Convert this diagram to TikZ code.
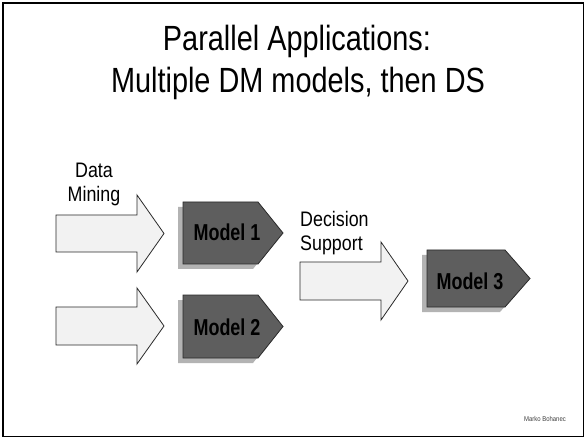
\documentclass[tikz,border=0pt]{standalone}
\usepackage{fontspec}
\setmainfont{Liberation Sans}
\newfontfamily\titlefont[FakeStretch=0.825]{Liberation Sans}
\newfontfamily\labelfont[FakeStretch=0.85]{Liberation Sans}
\newfontfamily\modelfont[FakeStretch=0.78]{Liberation Sans}

\definecolor{arrowfill}{HTML}{F2F2F2}
\definecolor{modelfill}{HTML}{5E5E5E}
\definecolor{shadowgray}{HTML}{B3B3B3}
\definecolor{edgegray}{HTML}{2A2A2A}

\tikzset{
  bigarrow/.style={fill=arrowfill, draw=edgegray, line width=0.8pt, line join=miter},
  modelbox/.style={fill=modelfill, draw=edgegray, line width=0.8pt, line join=miter},
  modelshadow/.style={fill=shadowgray, draw=none},
  titletext/.style={anchor=base, inner sep=0pt, font=\titlefont\fontsize{35}{41}\selectfont},
  labeltext/.style={anchor=base, inner sep=0pt, font=\labelfont\fontsize{21}{24}\selectfont},
  modeltext/.style={anchor=base, inner sep=0pt, font=\modelfont\bfseries\fontsize{23}{26}\selectfont},
}

\begin{document}
\begin{tikzpicture}[x=1pt, y=-1pt]
  % slide area and frame
  \useasboundingbox (0,0) rectangle (586,438);
  \fill[white] (0,0) rectangle (586,438);
  \draw[line width=1.6pt, black] (2.8,2.8) rectangle (583.5,436.5);

  % title
  \node[titletext] (title1) at (297,51) {Parallel Applications:};
  \node[titletext] (title2) at (298,92.3) {Multiple DM models, then DS};

  % data mining arrows
  \draw[bigarrow] (56,215) -- (137,215) -- (137,195) -- (164,233.5)
     -- (137,272) -- (137,252) -- (56,252) -- cycle;
  \draw[bigarrow] (56,307) -- (137,307) -- (137,288) -- (164,326)
     -- (137,364) -- (137,345) -- (56,345) -- cycle;
  \node[labeltext] (dm1) at (94,178) {Data};
  \node[labeltext] (dm2) at (94,202) {Mining};

  % model 1
  \fill[modelshadow] (178,207) -- (253,207) -- (278,238) -- (253,269) -- (178,269) -- cycle;
  \draw[modelbox] (183,202) -- (258,202) -- (283,233) -- (258,264) -- (183,264) -- cycle;
  \node[modeltext] (m1) at (227,241) {Model 1};

  % model 2
  \fill[modelshadow] (178,300) -- (253,300) -- (278,331.5) -- (253,363) -- (178,363) -- cycle;
  \draw[modelbox] (183,295) -- (258,295) -- (283,326.5) -- (258,358) -- (183,358) -- cycle;
  \node[modeltext] (m2) at (227,335) {Model 2};

  % decision support arrow
  \draw[bigarrow] (300,262) -- (381,262) -- (381,242) -- (408,281)
     -- (381,320) -- (381,300) -- (300,300) -- cycle;
  \node[labeltext, anchor=base west] (ds1) at (300,227) {Decision};
  \node[labeltext, anchor=base west] (ds2) at (300,251) {Support};

  % model 3
  \fill[modelshadow] (422,255) -- (500,255) -- (525,283.5) -- (500,312) -- (422,312) -- cycle;
  \draw[modelbox] (427,250) -- (505,250) -- (530,278.5) -- (505,307) -- (427,307) -- cycle;
  \node[modeltext] (m3) at (470,289) {Model 3};

  % author note
  \node[anchor=base, inner sep=0pt, font=\labelfont\fontsize{7}{8}\selectfont, text=black!75]
    (author) at (545,421) {Marko Bohanec};
\end{tikzpicture}
\end{document}
